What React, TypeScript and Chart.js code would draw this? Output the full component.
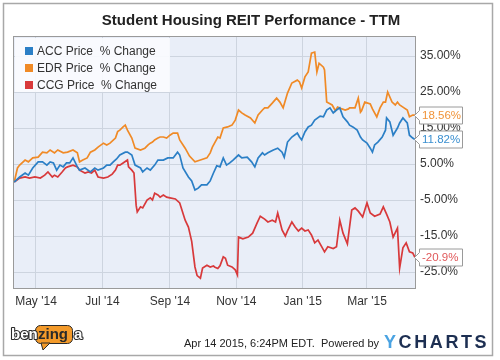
import React, { useEffect, useRef } from "react";
import { Chart, registerables } from "chart.js";

Chart.register(...registerables);

const TITLE = "Student Housing REIT Performance - TTM";
const SERIES_NAMES = ["ACC Price  % Change", "EDR Price  % Change", "CCG Price  % Change"];
const SERIES_COLORS = ["#2b7fc6", "#f08a26", "#d8393b"];
const END_LABELS = ["11.82%", "18.56%", "-20.9%"];
const END_LABEL_COLORS = ["#3a8fd0", "#f0943a", "#e0585a"];

// x = days since Apr 14 2014
const X_TICK_DAYS = [17, 78, 140, 201, 262, 321];
const X_TICK_LABELS = ["May '14", "Jul '14", "Sep '14", "Nov '14", "Jan '15", "Mar '15"];
const Y_TICKS = [35, 25, 15, 5, -5, -15, -25];
const Y_TICK_LABELS = ["35.00%", "25.00%", "15.00%", "5.00%", "-5.00%", "-15.0%", "-25.0%"];

const ACC_DAYS = [-3,2,7,10,14,19,23,27,30,33,36,39,42,45,48,51,55,57,62,67,71,74,79,82,85,88,91,94,99,101,105,108,113,115,119,122,126,129,134,138,143,147,149,152,157,160,163,166,169,174,177,180,183,186,189,192,195,198,203,206,211,215,218,221,225,227,230,235,239,243,245,248,252,257,259,261,264,267,270,273,278,281,284,287,290,293,296,299,303,305,308,312,315,317,321,324,326,328,331,335,338,339,342,345,349,351,354,358,360,363,365];
const ACC_PCT = [0,1.4,2.5,1.9,3.9,5.6,5.6,4.7,5.6,5.3,3.3,4.7,4.2,5.3,5.3,6.7,4.2,3.3,3.9,2.8,3.9,3.3,3.9,4.7,4.7,5.6,6.4,7.5,8.3,8.3,7.5,4.7,3.9,2.8,3.9,3.3,4.7,6.1,6.1,6.7,6.7,8.3,7.5,3.9,1.4,0.3,-2.2,-1.7,-0.8,-0.8,0.3,2.5,4.5,4.2,6.7,4.7,5.3,6.1,7.5,6.7,6.9,5.6,4.2,6.7,8.1,7.5,8.1,8.9,9.4,8.3,6.9,11.1,12.5,13.6,12.5,11.7,13.9,15.3,15.8,17.2,18.3,18.1,20.0,20.6,19.2,20.0,20.6,18.1,16.7,15.8,15.3,14.4,12.5,11.7,10.8,9.4,8.3,10.3,11.1,12.5,14.4,17.8,16.7,13.0,15.0,16.4,17.8,16.4,13.0,12.2,11.82];

const EDR_DAYS = [-3,0,2,7,10,14,19,23,27,30,34,37,42,46,51,55,57,60,64,67,71,74,79,82,85,90,92,94,97,99,101,105,108,113,117,120,122,124,126,129,131,134,137,140,143,147,149,154,158,163,168,174,177,179,181,184,186,189,193,197,200,203,206,209,214,218,221,225,227,230,234,238,241,244,248,252,257,259,261,264,267,270,273,275,277,281,282,284,289,292,294,298,301,304,305,310,313,315,316,319,324,326,330,333,336,338,340,344,347,349,351,354,358,360,363,365];
const EDR_PCT = [0,3.9,4.7,6.1,5.6,6.7,6.9,8.3,8.1,8.9,8.1,8.9,8.1,8.3,8.9,8.1,5.6,6.1,6.7,8.3,8.9,9.7,10.8,10.3,10.8,12.2,14.0,14.4,15.3,15.8,14.4,12.2,9.4,8.9,9.4,10.3,10.8,11.1,11.7,12.2,12.5,12.5,12.2,13.0,13.6,13.6,11.7,9.4,7.2,5.6,6.1,6.7,8.1,9.7,10.8,12.5,12.2,15.0,15.3,15.8,17.2,20.0,19.2,18.6,17.8,16.4,18.6,20.0,20.6,20.6,21.9,23.3,22.2,20.6,24.7,27.5,28.3,27.8,26.1,29.2,30.6,35.8,36.1,30.6,33.0,31.9,31.1,22.2,21.4,19.8,20.8,20.3,20.0,20.3,20.6,20.6,23.3,19.4,19.8,22.2,21.7,20.3,18.1,20.6,22.2,22.2,25.0,22.2,21.4,22.2,21.4,20.8,20.0,18.1,18.6,18.56];

const CCG_DAYS = [-3,2,7,11,16,21,25,28,32,34,37,41,44,46,51,55,57,62,65,68,71,74,79,83,87,90,92,94,97,101,102,105,107,109,110,113,115,119,122,124,126,129,131,134,137,140,145,149,154,157,160,163,165,168,170,174,177,180,181,184,186,189,191,193,197,200,202,203,207,212,216,220,223,227,230,234,237,239,243,246,248,252,255,258,261,264,267,270,273,276,280,282,285,290,293,296,299,303,307,310,313,317,321,324,328,333,336,339,342,345,349,351,354,357,360,363,365];
const CCG_PCT = [0,1.1,1.4,1.1,1.4,1.1,1.9,2.8,1.4,1.9,1.4,2.8,3.9,4.2,4.7,4.2,3.3,2.5,2.8,2.5,3.3,1.4,1.1,1.4,2.2,3.3,4.7,4.7,5.3,6.1,4.2,3.3,2.5,-6.5,-8.3,-6.9,-7.2,-5.0,-4.4,-5.0,-3.1,-3.6,-4.2,-3.6,-4.2,-4.4,-4.7,-5.8,-10.6,-12.5,-16.5,-23.6,-26.0,-26.7,-23.9,-23.1,-23.6,-23.3,-23.6,-24.0,-23.3,-20.8,-21.2,-23.1,-23.6,-24.4,-25.8,-15.3,-15.8,-15.3,-14.2,-11.4,-9.5,-10.3,-11.1,-10.6,-11.1,-8.6,-13.3,-15.0,-13.6,-11.1,-12.5,-13.6,-12.8,-13.6,-13.3,-14.7,-16.9,-16.1,-18.3,-19.4,-18.0,-18.5,-18.0,-10.6,-14.2,-17.2,-7.8,-7.2,-8.1,-9.7,-5.8,-8.6,-9.5,-8.9,-6.9,-8.9,-11.1,-15.3,-12.8,-23.9,-18.3,-16.9,-19.4,-19.7,-20.9];

const FOOTER_TEXT = "Apr 14 2015, 6:24PM EDT.  Powered by";
const LOGO_PARTS = ["ben", "zing", "a"];
const FONT = "'Liberation Sans', Arial, sans-serif";
const GRID = "#cdd4df";
const PLOT_BG = "#e9eef8";

function zip(days: number[], vals: number[]) {
  return days.map((d, i) => ({ x: d, y: vals[i] }));
}

export default function App() {
  const ref = useRef<HTMLCanvasElement>(null);

  useEffect(() => {
    document.body.style.margin = "0";
    const canvas = ref.current!;
    const ctx = canvas.getContext("2d")!;

    const decor = {
      id: "decor",
      beforeDraw(chart: any) {
        const c = chart.ctx;
        const a = chart.chartArea;
        c.save();
        c.fillStyle = "#ffffff";
        c.fillRect(0, 0, chart.width, chart.height);
        c.strokeStyle = "#a8a8a8";
        c.lineWidth = 1.5;
        c.strokeRect(3.5, 3.5, 489, 352);
        c.fillStyle = PLOT_BG;
        c.fillRect(a.left, a.top, a.right - a.left, a.bottom - a.top);
        c.restore();
      },
      afterDatasetsDraw(chart: any) {
        const c = chart.ctx;
        const a = chart.chartArea;
        c.save();
        c.fillStyle = "rgba(250,251,254,0.92)";
        c.fillRect(a.left + 1, a.top + 1, 155, 54);
        c.font = `12px ${FONT}`;
        c.textBaseline = "middle";
        c.textAlign = "left";
        SERIES_NAMES.forEach((name, i) => {
          const y = 51 + i * 17;
          c.fillStyle = SERIES_COLORS[i];
          c.fillRect(25, y - 4, 8, 8);
          c.fillStyle = "#333";
          c.fillText(name, 37, y + 0.5);
        });
        c.strokeStyle = "#9a9a9a";
        c.lineWidth = 1;
        c.strokeRect(a.left - 0.5, a.top - 0.5, a.right - a.left + 1, a.bottom - a.top + 1);
        c.restore();
      },
      afterDraw(chart: any) {
        const c = chart.ctx;
        const yScale = chart.scales.y;
        c.save();
        c.fillStyle = "#222";
        c.font = `bold 15px ${FONT}`;
        c.textAlign = "center";
        c.textBaseline = "middle";
        c.fillText(TITLE, 251, 21);

        const lastVals = [ACC_PCT[ACC_PCT.length - 1], EDR_PCT[EDR_PCT.length - 1], CCG_PCT[CCG_PCT.length - 1]];
        lastVals.forEach((v, i) => {
          const yc = Math.round(yScale.getPixelForValue(v)) + 0.5;
          const bx = 419.5, bw = 43, bh = 17;
          c.beginPath();
          c.moveTo(414.5, yc);
          c.lineTo(bx, yc - 5);
          c.lineTo(bx, yc - bh / 2);
          c.lineTo(bx + bw, yc - bh / 2);
          c.lineTo(bx + bw, yc + bh / 2);
          c.lineTo(bx, yc + bh / 2);
          c.lineTo(bx, yc + 5);
          c.closePath();
          c.fillStyle = "#ffffff";
          c.fill();
          c.strokeStyle = "#9a9a9a";
          c.lineWidth = 1;
          c.stroke();
          c.fillStyle = END_LABEL_COLORS[i];
          c.font = `11.5px ${FONT}`;
          c.textAlign = "left";
          c.textBaseline = "middle";
          c.fillText(END_LABELS[i], 422, yc + 0.5);
        });

        // benzinga logo
        c.textBaseline = "middle";
        c.textAlign = "left";
        c.font = `bold 15px ${FONT}`;
        c.lineJoin = "round";
        c.fillStyle = "#f39a2a";
        c.strokeStyle = "#2a2a2a";
        c.lineWidth = 1;
        c.beginPath();
        c.roundRect(35.5, 325.5, 37, 18, 5);
        c.fill();
        c.stroke();
        c.beginPath();
        c.moveTo(41, 343);
        c.lineTo(43, 350);
        c.lineTo(50, 343);
        c.closePath();
        c.fill();
        c.stroke();
        c.lineWidth = 2.2;
        c.strokeStyle = "#2a2a2a";
        c.strokeText(LOGO_PARTS[0], 11, 334.5);
        c.fillStyle = "#ffffff";
        c.fillText(LOGO_PARTS[0], 11, 334.5);
        c.fillStyle = "#2a2a2a";
        c.fillText(LOGO_PARTS[1], 38, 334.5);
        c.strokeText(LOGO_PARTS[2], 74, 334.5);
        c.fillStyle = "#ffffff";
        c.fillText(LOGO_PARTS[2], 74, 334.5);

        c.font = `11px ${FONT}`;
        c.fillStyle = "#222";
        c.fillText(FOOTER_TEXT, 184, 344);
        c.font = `bold 18px ${FONT}`;
        const letters = "YCHARTS".split("");
        let x = 384;
        letters.forEach((ch, i) => {
          c.fillStyle = i === 0 ? "#4aa3e2" : "#1d2f52";
          c.fillText(ch, x, 343);
          x += c.measureText(ch).width + 2.6;
        });
        c.restore();
      },
    };

    const chart = new Chart(ctx, {
      type: "line",
      data: {
        datasets: [
          { label: SERIES_NAMES[0], data: zip(ACC_DAYS, ACC_PCT), borderColor: SERIES_COLORS[0], backgroundColor: SERIES_COLORS[0], borderWidth: 1.7, pointRadius: 0, tension: 0 },
          { label: SERIES_NAMES[1], data: zip(EDR_DAYS, EDR_PCT), borderColor: SERIES_COLORS[1], backgroundColor: SERIES_COLORS[1], borderWidth: 1.7, pointRadius: 0, tension: 0 },
          { label: SERIES_NAMES[2], data: zip(CCG_DAYS, CCG_PCT), borderColor: SERIES_COLORS[2], backgroundColor: SERIES_COLORS[2], borderWidth: 1.7, pointRadius: 0, tension: 0 },
        ],
      },
      options: {
        responsive: false,
        animation: false,
        devicePixelRatio: 1,
        layout: { padding: { left: 14, top: 37, right: 0, bottom: 0 } },
        plugins: {
          legend: { display: false },
          title: { display: false },
          tooltip: { enabled: false },
        },
        scales: {
          x: {
            type: "linear",
            min: -3.2,
            max: 365.1,
            afterBuildTicks: (s: any) => {
              s.ticks = X_TICK_DAYS.map((v) => ({ value: v }));
            },
            afterFit: (s: any) => {
              s.height = 72;
            },
            grid: { color: GRID, drawTicks: false },
            border: { display: false },
            ticks: {
              padding: 6,
              color: "#333",
              font: { family: FONT, size: 12 },
              maxRotation: 0,
              autoSkip: false,
              callback: (v: any) => X_TICK_LABELS[X_TICK_DAYS.indexOf(Number(v))],
            },
          },
          y: {
            position: "right",
            min: -29.44,
            max: 40.28,
            afterBuildTicks: (s: any) => {
              s.ticks = Y_TICKS.map((v) => ({ value: v }));
            },
            afterFit: (s: any) => {
              s.width = 85;
            },
            grid: { color: GRID, drawTicks: false },
            border: { display: false },
            ticks: {
              padding: 5,
              color: "#333",
              font: { family: FONT, size: 12 },
              autoSkip: false,
              callback: (v: any) => Y_TICK_LABELS[Y_TICKS.indexOf(Number(v))],
            },
          },
        },
      },
      plugins: [decor],
    } as any);

    return () => chart.destroy();
  }, []);

  return <canvas ref={ref} width={500} height={360} style={{ display: "block" }} />;
}
